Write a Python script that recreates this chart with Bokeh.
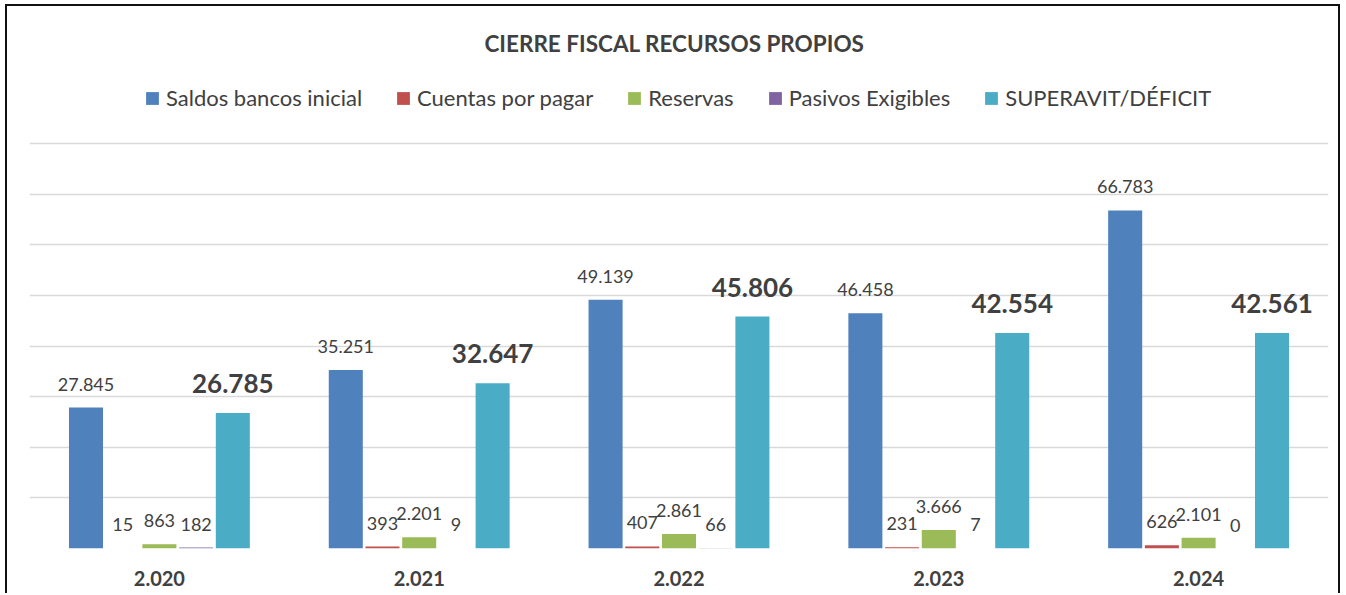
from bokeh.plotting import figure
from bokeh.models import (ColumnDataSource, FactorRange, Range1d, LabelSet, Label,
                          Legend, LegendItem, FixedTicker)
from bokeh.transform import dodge
from bokeh.core.properties import value
from bokeh.embed import file_html
from bokeh.resources import INLINE

years = ["2.020", "2.021", "2.022", "2.023", "2.024"]
series_names = ["Saldos bancos inicial", "Cuentas por pagar", "Reservas",
                "Pasivos Exigibles", "SUPERAVIT/DÉFICIT"]
saldos = [27845, 35251, 49139, 46458, 66783]
cuentas = [15, 393, 407, 231, 626]
reservas = [863, 2201, 2861, 3666, 2101]
pasivos = [182, 9, 66, 7, 0]
superavit = [26785, 32647, 45806, 42554, 42561]
series_values = [saldos, cuentas, reservas, pasivos, superavit]
colors = ["#4F81BD", "#C0504D", "#9BBB59", "#8064A2", "#4BACC6"]
title_text = "CIERRE FISCAL RECURSOS PROPIOS"
grid_max = 80000
grid_step = 10000

FONT = value("Lato")
TXT = "#404040"

W, H = 1335, 589
ML, MR, MB = 22, 14, 47
frame_h = H - MB
grid_px = 405  # pixel height of the gridded area
y_end = grid_max * frame_h / grid_px

p = figure(x_range=FactorRange(*years), y_range=Range1d(0, y_end),
           width=W, height=H, output_backend="svg", toolbar_location=None,
           min_border_left=ML, min_border_right=MR, min_border_bottom=MB,
           min_border_top=0)
p.border_fill_color = None
p.styles = {"border-left": "2px solid #111", "border-top": "2px solid #111",
            "border-right": "2px solid #111", "margin-left": "5px", "margin-top": "4px"}

p.outline_line_color = None
p.yaxis.visible = False
p.xgrid.grid_line_color = None
p.ygrid.ticker = FixedTicker(ticks=list(range(0, grid_max + 1, grid_step)))
p.ygrid.grid_line_color = "#D9D9D9"
p.ygrid.grid_line_width = 1.3

p.xaxis.axis_line_color = None
p.xaxis.major_tick_line_color = None
p.xaxis.minor_tick_line_color = None
p.xaxis.major_tick_out = 0
p.xaxis.major_label_standoff = 22
p.xaxis.major_label_text_font = "Lato"
p.xaxis.major_label_text_font_size = "20px"
p.xaxis.major_label_text_font_style = "bold"
p.xaxis.major_label_text_color = TXT

step = 0.1413
bar_w = 0.131
items = []
for i, (name, vals, col) in enumerate(zip(series_names, series_values, colors)):
    off = (i - 2) * step
    src = ColumnDataSource(dict(x=years, top=vals,
                                label=[f"{v:,}".replace(",", ".") for v in vals]))
    r = p.vbar(x=dodge("x", off, range=p.x_range), top="top", width=bar_w,
               source=src, fill_color=col, line_color=None)
    items.append(LegendItem(label=name, renderers=[r]))
    bold = (i == 4)
    lbl = LabelSet(x=dodge("x", off, range=p.x_range), y="top", text="label", source=src,
                   text_align="center", text_baseline="alphabetic",
                   y_offset=20 if bold else 17,
                   text_font=FONT, text_font_size="26px" if bold else "18px",
                   text_font_style="bold" if bold else "normal", text_color=TXT)
    p.add_layout(lbl)

title = Label(x=645, y=frame_h - 37, x_units="screen", y_units="screen", text=title_text,
              text_align="center", text_baseline="middle", text_font="Lato",
              text_font_size="22.5px", text_font_style="bold", text_color=TXT)
p.add_layout(title)

legend = Legend(items=items, orientation="horizontal", location=(115, frame_h - 105),
                border_line_color=None, background_fill_alpha=0,
                label_text_font="Lato", label_text_font_size="22px", label_text_color=TXT,
                glyph_width=16, glyph_height=16, label_standoff=6, spacing=33,
                padding=0, margin=0)
p.add_layout(legend, "center")

open("out.html", "w").write(file_html(p, INLINE))
